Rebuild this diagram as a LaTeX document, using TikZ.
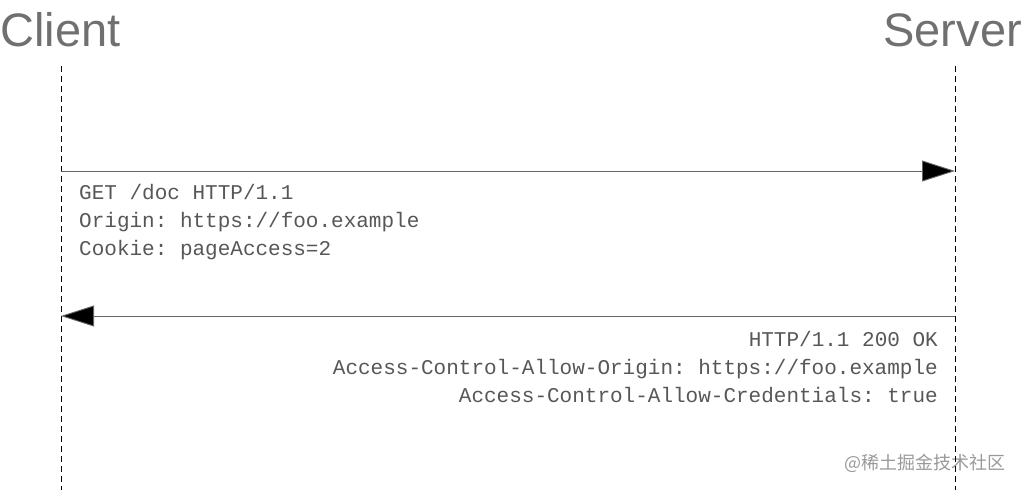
\documentclass[tikz,border=0pt]{standalone}
\usepackage{fontspec}
\setmainfont{Liberation Sans}
\setmonofont{Liberation Mono}
\newfontfamily\cjkfont{Noto Sans CJK SC}
\usetikzlibrary{arrows.meta, positioning}

\begin{document}
\begin{tikzpicture}[x=1pt, y=-1pt,
    party/.style={inner sep=0pt, text=black!56, font=\fontsize{47}{47}\selectfont},
    lifeline/.style={draw=black, line width=0.9pt, dash pattern=on 6pt off 4pt},
    msg/.style={draw=black!60, line width=0.9pt, arrows={-Triangle[length=33pt, width=21pt, fill=black]}},
    code/.style={inner sep=0pt, text=black!66, font=\fontsize{21}{28}\ttfamily}]
    \useasboundingbox (0,0) rectangle (1023,490);

    % Nodes
    \node[party, anchor=base west] (client) at (0,46) {Client};
    \node[party, anchor=base east] (server) at (1022,46) {Server};
    \coordinate (client top) at (61,66);
    \coordinate (client end) at (61,490);
    \coordinate (server top) at (955,66);
    \coordinate (server end) at (955,490);
    \coordinate (req from) at (61,171);
    \coordinate (req to) at (955,171);
    \coordinate (resp from) at (955,316);
    \coordinate (resp to) at (61,316);

    \node[code, anchor=base west] (get) at (79,199) {GET /doc HTTP/1.1};
    \node[code, anchor=base west] (origin) at (79,227) {Origin: https://foo.example};
    \node[code, anchor=base west] (cookie) at (79,255) {Cookie: pageAccess=2};
    \node[code, anchor=base east] (status) at (938,346) {HTTP/1.1 200 OK};
    \node[code, anchor=base east] (allow origin) at (938,374) {Access-Control-Allow-Origin: https://foo.example};
    \node[code, anchor=base east] (allow cred) at (938,402) {Access-Control-Allow-Credentials: true};

    \node[inner sep=0pt, anchor=east, text=black!40, font=\cjkfont\fontsize{18}{18}\selectfont] (mark) at (1006,463) {@稀土掘金技术社区};

    % Connections
    \draw[lifeline] (client top) -- (client end);
    \draw[lifeline] (server top) -- (server end);
    \draw[msg] (req from) -- (req to);
    \draw[msg] (resp from) -- (resp to);
\end{tikzpicture}
\end{document}
